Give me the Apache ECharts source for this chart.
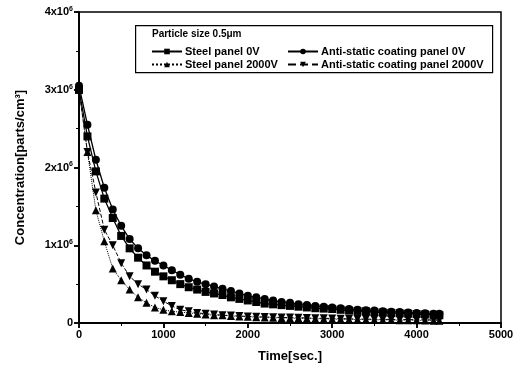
<!DOCTYPE html>
<html>
<head>
<meta charset="utf-8">
<script src="https://cdn.jsdelivr.net/npm/echarts@6/dist/echarts.min.js"></script>
<style>
  html, body { margin: 0; padding: 0; background: #fff; }
  #chart { width: 528px; height: 374px; }
</style>
</head>
<body>
<div id="chart"></div>
<script>
// time points (sec.)
var times = [0, 100, 200, 300, 400, 500, 600, 700, 800, 900, 1000, 1100, 1200, 1300, 1400,
  1500, 1600, 1700, 1800, 1900, 2000, 2100, 2200, 2300, 2400, 2500, 2600, 2700, 2800, 2900,
  3000, 3100, 3200, 3300, 3400, 3500, 3600, 3700, 3800, 3900, 4000, 4100, 4200, 4270];

// concentration in units of 1e6 parts/cm3
var steel0V = [3.0, 2.4, 1.95, 1.6, 1.35, 1.12, 0.96, 0.84, 0.74, 0.66, 0.6, 0.55, 0.5, 0.46, 0.43,
  0.4, 0.38, 0.36, 0.33, 0.31, 0.29, 0.27, 0.25, 0.24, 0.23, 0.22, 0.21, 0.2, 0.19, 0.185,
  0.18, 0.17, 0.16, 0.155, 0.15, 0.14, 0.135, 0.13, 0.125, 0.12, 0.115, 0.11, 0.105, 0.1];
var anti0V = [3.05, 2.55, 2.1, 1.74, 1.46, 1.25, 1.08, 0.96, 0.87, 0.8, 0.74, 0.68, 0.62, 0.57, 0.53,
  0.5, 0.47, 0.44, 0.41, 0.38, 0.35, 0.33, 0.31, 0.29, 0.27, 0.26, 0.24, 0.23, 0.22, 0.21,
  0.2, 0.19, 0.18, 0.17, 0.165, 0.16, 0.15, 0.145, 0.14, 0.135, 0.13, 0.125, 0.12, 0.12];
var steel2000V = [3.0, 2.2, 1.45, 1.05, 0.7, 0.55, 0.43, 0.33, 0.26, 0.2, 0.17, 0.15, 0.14, 0.13, 0.12,
  0.11, 0.1, 0.1, 0.09, 0.085, 0.08, 0.075, 0.07, 0.068, 0.065, 0.062, 0.06, 0.058, 0.055, 0.052,
  0.05, 0.048, 0.046, 0.045, 0.043, 0.042, 0.04, 0.038, 0.036, 0.035, 0.034, 0.032, 0.03, 0.03];
var anti2000V = [3.0, 2.2, 1.68, 1.2, 1.0, 0.77, 0.6, 0.5, 0.43, 0.35, 0.28, 0.22, 0.17, 0.15, 0.13,
  0.12, 0.11, 0.1, 0.095, 0.09, 0.085, 0.08, 0.078, 0.075, 0.072, 0.07, 0.068, 0.065, 0.062, 0.06,
  0.058, 0.056, 0.054, 0.052, 0.05, 0.048, 0.047, 0.046, 0.045, 0.044, 0.043, 0.042, 0.04, 0.04];

var seriesNames = ['Steel panel 0V', 'Anti-static coating panel 0V', 'Steel panel 2000V', 'Anti-static coating panel 2000V'];

function pairs(vals) {
  return vals.map(function (v, i) { return [times[i], v * 1e6]; });
}

var downTri = 'path://M0,0 L10,0 L5,9 Z';
var font = 'Liberation Sans, Arial, sans-serif';

var myChart = echarts.init(document.getElementById('chart'));

var option = {
  backgroundColor: '#fff',
  animation: false,
  textStyle: { fontFamily: font, color: '#000' },
  grid: { left: 79, right: 27, top: 12, bottom: 51, show: true, borderColor: '#000', borderWidth: 1.5 },
  graphic: [
    {
      type: 'rect', left: 135, top: 25,
      shape: { width: 357, height: 47 },
      style: { fill: '#fff', stroke: '#000', lineWidth: 1.2 },
      z: 5
    },
    {
      type: 'text', left: 152, top: 29, z: 6,
      style: { text: 'Particle size 0.5\u03bcm', font: 'bold 10px ' + font, fill: '#000' }
    }
  ],
  legend: [
    {
      data: [seriesNames[0], seriesNames[2]],
      orient: 'vertical', left: 146, top: 41, itemGap: 2,
      itemWidth: 30, itemHeight: 7, z: 7,
      textStyle: { fontFamily: font, fontWeight: 'bold', fontSize: 11, color: '#000', padding: [0, 0, 0, -2] }
    },
    {
      data: [seriesNames[1], seriesNames[3]],
      orient: 'vertical', left: 282, top: 41, itemGap: 2,
      itemWidth: 30, itemHeight: 7, z: 7,
      textStyle: { fontFamily: font, fontWeight: 'bold', fontSize: 11, color: '#000', padding: [0, 0, 0, -2] }
    }
  ],
  xAxis: [
    {
      type: 'value', min: 0, max: 5000, interval: 1000,
      name: 'Time[sec.]', nameLocation: 'middle', nameGap: 27,
      nameTextStyle: { fontFamily: font, fontWeight: 'bold', fontSize: 13, color: '#000' },
      axisLine: { lineStyle: { color: '#000', width: 1.5 } },
      axisTick: { inside: false, length: 5, lineStyle: { color: '#000', width: 1.5 } },
      minorTick: { show: true, splitNumber: 2, length: 3, lineStyle: { color: '#000' } },
      axisLabel: {
        fontFamily: font, fontWeight: 'bold', fontSize: 11, color: '#000', margin: 6,
        formatter: function (v) { return String(v); }
      },
      splitLine: { show: false }
    },
    {
      type: 'value', min: 0, max: 5000, interval: 1000, position: 'top',
      axisLine: { show: true, lineStyle: { color: '#000', width: 1.5 } },
      axisTick: { inside: true, length: 5, lineStyle: { color: '#000', width: 1.5 } },
      minorTick: { show: true, splitNumber: 2, length: 3, lineStyle: { color: '#000' } },
      axisLabel: { show: false },
      splitLine: { show: false }
    }
  ],
  yAxis: [
    {
      type: 'value', min: 0, max: 4e6, interval: 1e6,
      name: 'Concentration[parts/cm\u00b3]', nameLocation: 'middle', nameGap: 52, nameRotate: 90,
      nameTextStyle: { fontFamily: font, fontWeight: 'bold', fontSize: 13, color: '#000' },
      axisLine: { lineStyle: { color: '#000', width: 1.5 } },
      axisTick: { inside: false, length: 5, lineStyle: { color: '#000', width: 1.5 } },
      minorTick: { show: true, splitNumber: 2, length: 3, lineStyle: { color: '#000' } },
      axisLabel: {
        margin: 6,
        formatter: function (v) {
          if (v === 0) return '{a|0}';
          return '{a|' + (v / 1e6) + 'x10}{s|6}';
        },
        rich: {
          a: { fontFamily: font, fontWeight: 'bold', fontSize: 11, color: '#000' },
          s: { fontFamily: font, fontWeight: 'bold', fontSize: 7, color: '#000', verticalAlign: 'top', padding: [0, 0, 6, 0] }
        }
      },
      splitLine: { show: false }
    },
    {
      type: 'value', min: 0, max: 4e6, interval: 1e6, position: 'right',
      axisLine: { show: true, lineStyle: { color: '#000', width: 1.5 } },
      axisTick: { inside: true, length: 5, lineStyle: { color: '#000', width: 1.5 } },
      minorTick: { show: true, splitNumber: 2, length: 3, lineStyle: { color: '#000' } },
      axisLabel: { show: false },
      splitLine: { show: false }
    }
  ],
  series: [
    {
      name: seriesNames[0], type: 'line', data: pairs(steel0V),
      symbol: 'rect', symbolSize: 8, color: '#000',
      lineStyle: { color: '#000', width: 1.3, type: 'solid' },
      itemStyle: { color: '#000' }
    },
    {
      name: seriesNames[1], type: 'line', data: pairs(anti0V),
      symbol: 'circle', symbolSize: 8, color: '#000',
      lineStyle: { color: '#000', width: 1.3, type: 'solid' },
      itemStyle: { color: '#000' }
    },
    {
      name: seriesNames[2], type: 'line', data: pairs(steel2000V),
      symbol: 'triangle', symbolSize: 8, color: '#000',
      lineStyle: { color: '#000', width: 1, type: 'dotted' },
      itemStyle: { color: '#000' }
    },
    {
      name: seriesNames[3], type: 'line', data: pairs(anti2000V),
      symbol: downTri, symbolSize: 8, color: '#000',
      lineStyle: { color: '#000', width: 1, type: 'dashed' },
      itemStyle: { color: '#000' }
    }
  ]
};

myChart.setOption(option);
</script>
</body>
</html>
